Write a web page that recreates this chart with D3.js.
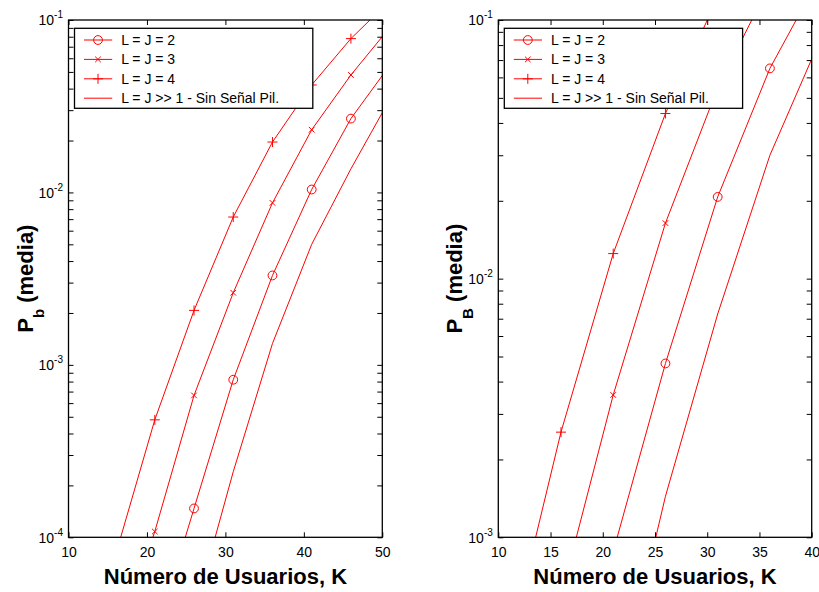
<!DOCTYPE html>
<html>
<head>
<meta charset="utf-8">
<script src="https://cdn.jsdelivr.net/npm/d3@7"></script>
<style>
  html, body { margin: 0; padding: 0; background: #fff; }
  svg { display: block; font-family: "Liberation Sans", Arial, Helvetica, sans-serif; }
</style>
</head>
<body>
<svg id="chart" width="819" height="592"></svg>
<script>
// Average bit error probability vs. number of users, K

// --- Left panel: P_b (media) ---
const kLeft = [16, 21, 26, 31, 36, 41, 46, 51];
const pbJ2   = [null, 2.6e-5, 1.47e-4, 8.2e-4, 3.3e-3, 1.04e-2, 2.68e-2, 5.5e-2];
const pbJ3   = [2.2e-5, 1.08e-4, 6.65e-4, 2.62e-3, 8.7e-3, 2.31e-2, 4.8e-2, 9.1e-2];
const pbJ4   = [7.9e-5, 4.8e-4, 2.07e-3, 7.2e-3, 1.96e-2, 4.2e-2, 7.8e-2, 0.13];
const pbInf  = [null, null, 3.6e-5, 2.4e-4, 1.33e-3, 5.0e-3, 1.37e-2, 3.5e-2];
const xTicksLeft = [10, 20, 30, 40, 50];
const yExpLeft = [-4, -3, -2, -1];

// --- Right panel: P_B (media) ---
const kRight = [11, 16, 21, 26, 31, 36, 41];
const pBJ2   = [null, null, 8.8e-4, 4.7e-3, 2.07e-2, 6.5e-2, 0.153];
const pBJ3   = [null, 5.9e-4, 3.55e-3, 1.64e-2, 5.46e-2, 0.138, null];
const pBJ4   = [3.7e-4, 2.55e-3, 1.25e-2, 4.35e-2, 0.123, null, null];
const pBInf  = [null, null, 2.0e-4, 1.44e-3, 7.3e-3, 3.0e-2, 8.75e-2];
const xTicksRight = [10, 15, 20, 25, 30, 35, 40];
const yExpRight = [-3, -2, -1];

const legendLabels = ["L = J = 2", "L = J = 3", "L = J = 4", "L = J >> 1 - Sin Señal Pil."];
const markerKinds = ["circle", "x", "plus", "none"];
const xTitle = "Número de Usuarios, K";

const RED = "#ff0000";
const svg = d3.select("#chart");

function markerPath(kind) {
  if (kind === "circle") return d3.symbol().type(d3.symbolCircle).size(Math.PI * 4.4 * 4.4)();
  if (kind === "plus") return "M-5,0H5M0,-5V5";
  if (kind === "x") return "M-2.8,-2.8L2.8,2.8M-2.8,2.8L2.8,-2.8";
  return null;
}

function drawPanel(cfg) {
  const { id, x0, x1, y0, y1, xDomain, yExp, xTicks, ks, series, ySub } = cfg;
  const x = d3.scaleLinear().domain(xDomain).range([x0, x1]);
  const y = d3.scaleLog().domain([Math.pow(10, yExp[0]), Math.pow(10, yExp[yExp.length - 1])]).range([y1, y0]);
  const g = svg.append("g");

  g.append("clipPath").attr("id", "clip-" + id)
    .append("rect").attr("x", x0).attr("y", y0).attr("width", x1 - x0).attr("height", y1 - y0);

  // curves
  const line = d3.line()
    .defined(d => d.v != null)
    .x(d => x(d.k)).y(d => y(d.v));
  const pts = series.map(vals => ks.map((k, i) => ({ k, v: vals[i] })));
  const curves = g.append("g").attr("clip-path", `url(#clip-${id})`);
  pts.forEach(p => {
    curves.append("path").datum(p).attr("d", line)
      .attr("fill", "none").attr("stroke", RED).attr("stroke-width", 1);
  });

  // markers at data points inside the axes
  const [vMin, vMax] = y.domain();
  pts.forEach((p, si) => {
    const kind = markerKinds[si];
    if (kind === "none") return;
    g.append("g").selectAll("path")
      .data(p.filter(d => d.v != null && d.v >= vMin && d.v <= vMax && d.k >= xDomain[0] && d.k <= xDomain[1]))
      .join("path")
      .attr("transform", d => `translate(${x(d.k)},${y(d.v)})`)
      .attr("d", markerPath(kind))
      .attr("fill", "none").attr("stroke", RED).attr("stroke-width", 1);
  });

  // axes: inward ticks on all four sides
  const majorY = yExp.map(e => Math.pow(10, e));
  const minorY = [];
  for (let e = yExp[0]; e < yExp[yExp.length - 1]; e++)
    for (let m = 2; m <= 9; m++) minorY.push(m * Math.pow(10, e));
  const tickStyle = sel => {
    sel.select(".domain").remove();
    sel.selectAll(".tick line").attr("stroke", "#000").attr("stroke-width", 1);
  };

  g.append("g").attr("transform", `translate(0,${y1})`)
    .call(d3.axisBottom(x).tickValues(xTicks).tickSizeInner(-5).tickSizeOuter(0).tickPadding(9.8).tickFormat(d3.format("d")))
    .call(tickStyle)
    .call(s => s.selectAll(".tick text").attr("fill", "#000").style("font-size", "14px")
      .style("font-family", '"Liberation Sans", Arial, sans-serif'));
  g.append("g").attr("transform", `translate(0,${y0})`)
    .call(d3.axisTop(x).tickValues(xTicks).tickSizeInner(-5).tickSizeOuter(0).tickFormat(""))
    .call(tickStyle);
  g.append("g").attr("transform", `translate(${x0},0)`)
    .call(d3.axisLeft(y).tickValues(majorY.concat(minorY)).tickSizeInner(-5).tickSizeOuter(0).tickFormat(""))
    .call(tickStyle);
  g.append("g").attr("transform", `translate(${x1},0)`)
    .call(d3.axisRight(y).tickValues(majorY.concat(minorY)).tickSizeInner(-5).tickSizeOuter(0).tickFormat(""))
    .call(tickStyle);

  // y tick labels as 10 with exponent
  yExp.forEach(e => {
    const t = g.append("text")
      .attr("x", x0 - 5.5).attr("y", y(Math.pow(10, e)) + 5.3)
      .attr("text-anchor", "end").attr("fill", "#000").style("font-size", "14px");
    t.append("tspan").text("10");
    t.append("tspan").attr("dy", -7).style("font-size", "10px").text(String(e).replace("-", "-"));
  });

  // frame
  g.append("rect").attr("x", x0).attr("y", y0).attr("width", x1 - x0).attr("height", y1 - y0)
    .attr("fill", "none").attr("stroke", "#000").attr("stroke-width", 1.3);

  // x title
  g.append("text").attr("x", (x0 + x1) / 2).attr("y", 584)
    .attr("text-anchor", "middle").attr("fill", "#000")
    .style("font-size", "22px").style("font-weight", "bold").text(xTitle);

  // y title
  const yt = g.append("text")
    .attr("transform", `translate(${cfg.yTitleX},${(y0 + y1) / 2}) rotate(-90)`)
    .attr("text-anchor", "middle").attr("fill", "#000")
    .style("font-size", "22px").style("font-weight", "bold");
  yt.append("tspan").text("P");
  yt.append("tspan").attr("dy", 11).style("font-size", "15px").text(ySub);
  yt.append("tspan").attr("dy", -11).text(" (media)");

  // legend
  const lx = x0 + 6, ly = y0 + 8.3, lw = 238.3, lh = 80;
  const lg = g.append("g");
  lg.append("rect").attr("x", lx).attr("y", ly).attr("width", lw).attr("height", lh)
    .attr("fill", "#fff").attr("stroke", "#000").attr("stroke-width", 1.3);
  legendLabels.forEach((lab, i) => {
    const cy = ly + 11.7 + i * 19.4;
    lg.append("line").attr("x1", lx + 9.5).attr("x2", lx + 37.7).attr("y1", cy).attr("y2", cy)
      .attr("stroke", RED).attr("stroke-width", 1);
    const mp = markerPath(markerKinds[i]);
    if (mp) lg.append("path").attr("d", mp).attr("transform", `translate(${lx + 23.5},${cy})`)
      .attr("fill", "none").attr("stroke", RED).attr("stroke-width", 1);
    lg.append("text").attr("x", lx + 46.7).attr("y", cy + 5).attr("fill", "#000")
      .style("font-size", "14px").text(lab);
  });
}

drawPanel({
  id: "left", x0: 68.5, x1: 382.3, y0: 20, y1: 537.3,
  xDomain: [10, 50], yExp: yExpLeft, xTicks: xTicksLeft,
  ks: kLeft, series: [pbJ2, pbJ3, pbJ4, pbInf], ySub: "b", yTitleX: 33
});
drawPanel({
  id: "right", x0: 498.3, x1: 811.7, y0: 20, y1: 537.3,
  xDomain: [10, 40], yExp: yExpRight, xTicks: xTicksRight,
  ks: kRight, series: [pBJ2, pBJ3, pBJ4, pBInf], ySub: "B", yTitleX: 461.7
});
</script>
</body>
</html>
